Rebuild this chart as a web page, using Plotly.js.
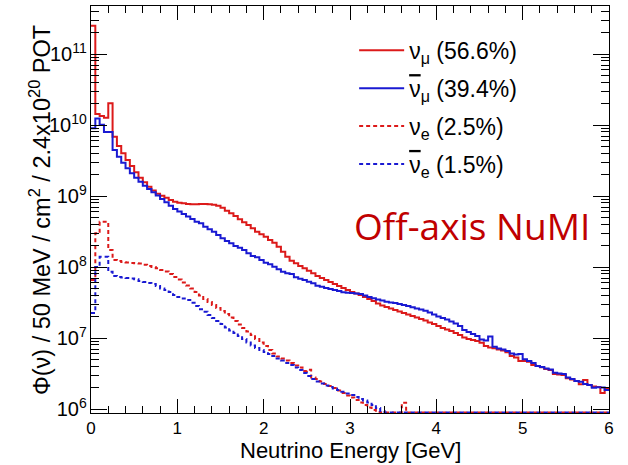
<!DOCTYPE html>
<html>
<head>
<meta charset="utf-8">
<script src="https://cdn.plot.ly/plotly-3.0.1.min.js"></script>
<style>html,body{margin:0;padding:0;background:#fff;}#chart{width:628px;height:465px;}</style>
</head>
<body>
<div id="chart"></div>
<script>
// Histogram: 120 bins of 50 MeV from 0 to 6 GeV (flux per bin)
const binWidth = 0.05;
const nBins = 120;

const numu = [
2.5e11,1.43e10,1.34e10,1.27e10,2.02e10,6.84e9,5.06e9,3.99e9,3.21e9,2.65e9,
2.16e9,1.81e9,1.56e9,1.35e9,1.20e9,1.08e9,1.01e9,9.46e8,8.79e8,8.32e8,
8.05e8,7.89e8,7.71e8,7.64e8,7.64e8,7.71e8,7.71e8,7.64e8,7.54e8,7.29e8,
6.84e8,6.21e8,5.70e8,5.22e8,4.70e8,4.26e8,3.91e8,3.51e8,3.14e8,2.89e8,
2.67e8,2.40e8,2.20e8,1.93e8,1.64e8,1.40e8,1.23e8,1.13e8,1.03e8,9.59e7,
8.87e7,8.15e7,7.47e7,7.00e7,6.56e7,6.15e7,5.77e7,5.40e7,5.06e7,4.74e7,
4.45e7,4.24e7,4.04e7,3.78e7,3.54e7,3.32e7,3.06e7,2.87e7,2.73e7,2.60e7,
2.48e7,2.36e7,2.25e7,2.14e7,2.04e7,1.94e7,1.85e7,1.76e7,1.65e7,1.57e7,
1.48e7,1.38e7,1.32e7,1.26e7,1.18e7,1.10e7,1.02e7,9.68e6,9.37e6,9.08e6,
8.59e6,7.71e6,7.35e6,7.16e6,6.89e6,6.67e6,6.29e6,5.57e6,5.31e6,4.74e6,
4.74e6,4.64e6,4.17e6,4.03e6,3.87e6,3.66e6,3.54e6,3.11e6,3.06e6,3.01e6,
2.71e6,2.60e6,2.48e6,2.23e6,2.56e6,2.18e6,2.07e6,2.04e6,1.68e6,1.98e6
];

const numubar = [
8.97e9,1.23e10,1.01e10,7.96e9,7.96e9,4.45e9,3.58e9,2.95e9,2.46e9,2.09e9,
1.81e9,1.59e9,1.40e9,1.26e9,1.13e9,1.02e9,9.08e8,8.15e8,7.29e8,6.56e8,
6.05e8,5.58e8,5.14e8,4.74e8,4.35e8,4.12e8,3.70e8,3.40e8,3.14e8,2.82e8,
2.54e8,2.32e8,2.16e8,1.98e8,1.87e8,1.73e8,1.56e8,1.43e8,1.37e8,1.26e8,
1.15e8,1.09e8,1.01e8,9.29e7,8.59e7,8.15e7,7.96e7,7.16e7,6.84e7,6.56e7,
6.21e7,5.89e7,5.45e7,5.28e7,5.06e7,4.90e7,4.74e7,4.59e7,4.40e7,4.35e7,
4.30e7,4.24e7,4.17e7,3.97e7,3.78e7,3.62e7,3.48e7,3.37e7,3.24e7,3.16e7,
3.11e7,3.01e7,2.92e7,2.82e7,2.71e7,2.60e7,2.52e7,2.42e7,2.28e7,2.14e7,
2.01e7,1.91e7,1.82e7,1.71e7,1.60e7,1.48e7,1.30e7,1.22e7,1.14e7,1.07e7,
9.53e6,9.22e6,1.05e7,7.53e6,7.11e6,6.89e6,6.56e6,6.05e6,5.86e6,5.96e6,
5.01e6,4.74e6,4.45e6,4.03e6,3.91e6,3.72e6,3.60e6,3.24e6,3.16e6,3.11e6,
2.79e6,2.65e6,2.48e6,2.43e6,2.25e6,2.18e6,2.00e6,2.02e6,2.01e6,1.85e6
];

const nue = [
6.56e7,2.99e8,4.35e8,4.35e8,1.73e8,1.26e8,1.22e8,1.18e8,1.16e8,1.14e8,
1.13e8,1.12e8,1.08e8,1.03e8,1.00e8,9.59e7,9.08e7,8.65e7,7.96e7,7.23e7,
6.67e7,6.05e7,5.49e7,4.98e7,4.45e7,3.97e7,3.54e7,3.21e7,2.92e7,2.65e7,
2.40e7,2.18e7,1.94e7,1.74e7,1.55e7,1.38e7,1.24e7,1.10e7,9.68e6,8.65e6,
7.71e6,6.78e6,6.05e6,5.49e6,5.14e6,4.82e6,4.45e6,4.10e6,3.85e6,3.42e6,
3.57e6,2.78e6,2.65e6,2.44e6,2.25e6,2.11e6,1.98e6,1.82e6,1.68e6,1.55e6,
1.45e6,1.34e6,1.24e6,1.14e6,1.05e6,9.68e5,9.08e5,0,0,0,
0,0,1.23e6,0,0,0,0,0,0,0,
0,0,0,0,0,0,0,0,0,0,
0,0,0,0,0,0,0,0,0,0,
0,0,0,0,0,0,0,0,0,0,
0,0,0,0,0,0,0,0,0,0
];

const nuebar = [
2.25e7,1.00e8,1.40e8,1.40e8,8.59e7,7.47e7,7.23e7,7.11e7,7.00e7,6.88e7,
6.71e7,6.35e7,6.15e7,5.96e7,5.77e7,5.40e7,4.98e7,4.74e7,4.45e7,4.04e7,
3.78e7,3.60e7,3.43e7,3.14e7,2.82e7,2.54e7,2.35e7,2.11e7,1.91e7,1.74e7,
1.57e7,1.41e7,1.28e7,1.18e7,1.07e7,9.68e6,8.65e6,7.84e6,7.23e6,6.78e6,
6.35e6,5.96e6,5.57e6,5.14e6,4.82e6,4.45e6,4.17e6,3.85e6,3.54e6,3.21e6,
2.92e6,2.65e6,2.44e6,2.29e6,2.14e6,2.04e6,1.95e6,1.85e6,1.75e6,1.65e6,
1.57e6,1.48e6,1.38e6,1.32e6,1.24e6,1.14e6,1.03e6,9.37e5,0,0,
0,0,0,0,0,0,0,0,0,0,
0,0,0,0,0,0,0,0,0,0,
0,0,0,0,0,0,0,0,0,0,
0,0,0,0,0,0,0,0,0,0,
0,0,0,0,0,0,0,0,0,0
];

const seriesNames = [
  "ν<sub>μ</sub> (56.6%)",
  "<span style=\"text-decoration:overline\">ν</span><sub>μ</sub> (39.4%)",
  "ν<sub>e</sub> (2.5%)",
  "<span style=\"text-decoration:overline\">ν</span><sub>e</sub> (1.5%)"
];

const yMinLog = 5.944, yMaxLog = 11.676;
const floorVal = Math.pow(10, yMinLog + 0.006);

function stepTrace(vals, name, color, dash, grp) {
  const x = [], y = [];
  for (let i = 0; i < nBins; i++) { x.push(i * binWidth); y.push(vals[i] > 0 ? vals[i] : floorVal); }
  x.push(nBins * binWidth); y.push(vals[nBins - 1] > 0 ? vals[nBins - 1] : floorVal);
  return { x, y, name, legendgroup: grp, type: 'scatter', mode: 'lines',
    line: { shape: 'hv', color, width: 2, dash }, hoverinfo: 'skip' };
}

const RED = '#dc1a1a', BLUE = '#1a1ad2';
const data = [
  stepTrace(numu, seriesNames[0], RED, 'solid', 'g1'),
  stepTrace(numubar, seriesNames[1], BLUE, 'solid', 'g2'),
  stepTrace(nue, seriesNames[2], RED, '4px,3px', 'g3'),
  stepTrace(nuebar, seriesNames[3], BLUE, '4px,3px', 'g4')
];

const FONT = 'Liberation Sans, Arial, Helvetica, sans-serif';
const layout = {
  width: 628, height: 465,
  margin: { l: 91, r: 19, t: 6, b: 52 },
  paper_bgcolor: '#fff', plot_bgcolor: '#fff',
  font: { family: FONT, color: '#000', size: 17 },
  showlegend: true,
  legend: {
    x: 0.508, y: 0.944, xanchor: 'left', yanchor: 'top',
    font: { family: FONT, size: 23, color: '#000' },
    bgcolor: 'rgba(0,0,0,0)', itemwidth: 45, traceorder: 'grouped', tracegroupgap: 5
  },
  xaxis: {
    range: [0, 6], showgrid: false, zeroline: false,
    showline: true, linecolor: '#000', linewidth: 1, mirror: 'allticks',
    ticks: 'inside', ticklen: 14, tickwidth: 1, tickcolor: '#000',
    dtick: 1, tick0: 0,
    minor: { dtick: 0.2, ticks: 'inside', ticklen: 7, tickcolor: '#000', showgrid: false },
    tickfont: { size: 17 }
  },
  yaxis: {
    type: 'log', range: [yMinLog, yMaxLog], showgrid: false, zeroline: false,
    showline: true, linecolor: '#000', linewidth: 1, mirror: 'allticks',
    ticks: 'inside', ticklen: 16, tickwidth: 1, tickcolor: '#000',
    dtick: 1, exponentformat: 'power',
    minor: { dtick: 'D1', ticks: 'inside', ticklen: 8, tickcolor: '#000', showgrid: false },
    tickfont: { size: 16 }
  },
  annotations: [{
    text: 'Neutrino Energy [GeV]',
    xref: 'paper', yref: 'paper', x: 0.5, y: -0.092,
    xanchor: 'center', yanchor: 'middle', showarrow: false,
    font: { family: FONT, size: 22, color: '#000' }
  }, {
    text: 'Φ(ν) / 50 MeV / cm<sup>2</sup> / 2.4x10<sup>20</sup> POT',
    xref: 'paper', yref: 'paper', x: -0.0995, y: 0.5, textangle: -90,
    xanchor: 'center', yanchor: 'middle', showarrow: false,
    font: { family: FONT, size: 23.5, color: '#000' }
  }, {
    text: 'Off-axis NuMI', xref: 'paper', yref: 'paper', x: 0.7355, y: 0.46,
    xanchor: 'center', yanchor: 'middle', showarrow: false,
    font: { family: 'Open Sans, Noto Sans, sans-serif', size: 37, color: '#c00000' }
  }]
};

Plotly.newPlot('chart', data, layout, { displayModeBar: false, staticPlot: true });
</script>
</body>
</html>
